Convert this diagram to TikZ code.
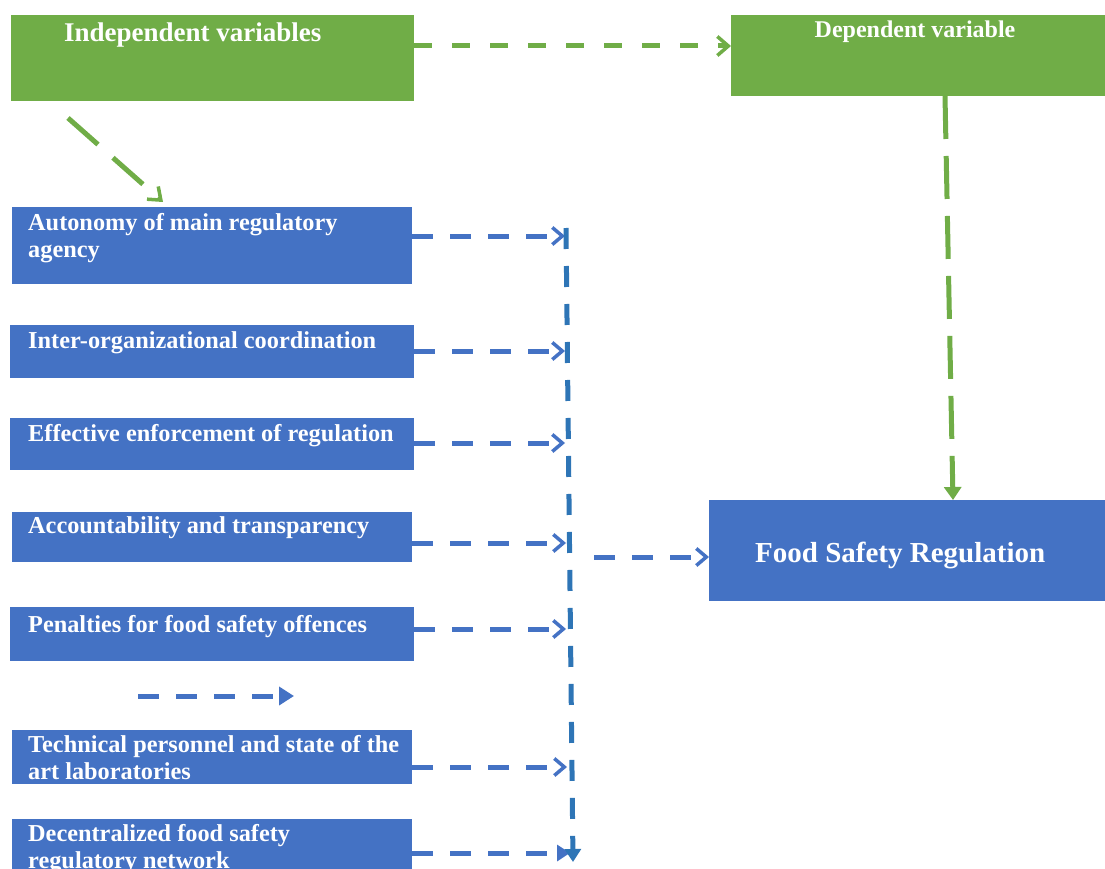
\documentclass[tikz,border=0pt]{standalone}
\usepackage{fontspec}
\setmainfont{Liberation Serif}
\usetikzlibrary{arrows.meta}
\definecolor{gr}{HTML}{70AD47}
\definecolor{bl}{HTML}{4472C4}
\definecolor{bl2}{HTML}{2E75B6}
\tikzset{
  gbox/.style={fill=gr, draw=none, anchor=north west, inner sep=0pt, outer sep=0pt},
  bbox/.style={fill=bl, draw=none, anchor=north west, inner sep=0pt, outer sep=0pt},
  txt/.style={text=white, font=\fontsize{24.3}{27}\selectfont\bfseries, align=left, inner sep=0pt, anchor=base west},
  garrow/.style={draw=gr, line width=5pt, dash pattern=on 18pt off 20pt},
  barrow/.style={draw=bl, line width=5pt, dash pattern=on 21pt off 17pt, -{Straight Barb[length=10pt,width=17pt,line width=3.5pt]}},
  vline/.style={draw=bl2, line width=5pt, dash pattern=on 21pt off 17pt},
}
\begin{document}
\begin{tikzpicture}[x=1pt,y=-1pt]
\useasboundingbox (0,0) rectangle (1105,869);
% green boxes
\node[gbox, minimum width=403, minimum height=86] (iv) at (11,15) {};
\node[gbox, minimum width=374, minimum height=81] (dv) at (731,15) {};
\node[txt, font=\fontsize{27}{30}\selectfont\bfseries] (ivt) at (64,42) {Independent variables};
\node[txt, font=\fontsize{24}{26}\selectfont\bfseries, anchor=base] (dvt) at (915,38) {Dependent variable};
% blue boxes
\node[bbox, minimum width=400, minimum height=77] (a1) at (12,207) {};
\node[bbox, minimum width=404, minimum height=53] (a2) at (10,325) {};
\node[bbox, minimum width=404, minimum height=52] (a3) at (10,418) {};
\node[bbox, minimum width=400, minimum height=50] (a4) at (12,512) {};
\node[bbox, minimum width=404, minimum height=54] (a5) at (10,607) {};
\node[bbox, minimum width=400, minimum height=54] (a6) at (12,730) {};
\node[bbox, minimum width=400, minimum height=50] (a7) at (12,819) {};
\node[bbox, minimum width=396, minimum height=101] (fs) at (709,500) {};
% texts (base anchor = baseline of the last line)
\node[txt] (a1t) at (28,257) {Autonomy of main regulatory\\agency};
\node[txt] (a2t) at (28,348) {Inter-organizational coordination};
\node[txt] (a3t) at (28,441) {Effective enforcement of regulation};
\node[txt] (a4t) at (28,533) {Accountability and transparency};
\node[txt] (a5t) at (28,632) {Penalties for food safety offences};
\node[txt] (a6t) at (28,779) {Technical personnel and state of the\\art laboratories};
\node[txt] (a7t) at (28,868) {Decentralized food safety\\regulatory network};
\node[txt, font=\fontsize{29}{32}\selectfont\bfseries] (fst) at (755,562) {Food Safety Regulation};
% green connectors
\draw[garrow, -{Straight Barb[length=11pt,width=19pt,line width=3.5pt]}] (iv.east |- 0,46) -- (dv.west |- 0,46);
\coordinate (d0) at (68,118);
\coordinate (d1) at (163,202);
\draw[garrow, dash pattern=on 40pt off 20pt, -{Straight Barb[length=11pt,width=17pt,line width=3.5pt]}] (d0) -- (d1);
\coordinate (v0) at (945,96);
\coordinate (v1) at (953,500);
\draw[garrow, dash pattern=on 43pt off 17pt, -{Triangle[length=13pt,width=17pt]}] (v0) -- (v1);
% blue connectors
\coordinate (t1) at (565,236);
\coordinate (t2) at (565,351);
\coordinate (t3) at (565,443);
\coordinate (t4) at (566,543);
\coordinate (t5) at (566,629);
\coordinate (t6) at (567,767);
\coordinate (t7) at (570,853);
\draw[barrow] (a1.east |- t1) -- (t1);
\draw[barrow] (a2.east |- t2) -- (t2);
\draw[barrow] (a3.east |- t3) -- (t3);
\draw[barrow] (a4.east |- t4) -- (t4);
\draw[barrow] (a5.east |- t5) -- (t5);
\draw[barrow] (a6.east |- t6) -- (t6);
\draw[barrow, -{Triangle[length=13pt,width=16pt]}] (a7.east |- t7) -- (t7);
\coordinate (vt) at (566,228);
\coordinate (vb) at (573,862);
\draw[vline, -{Triangle[length=13pt,width=16pt]}] (vt) -- (vb);
\coordinate (f0) at (594,557);
\draw[barrow] (f0) -- (fs.west |- f0);
\coordinate (s0) at (138,696);
\coordinate (s1) at (294,696);
\draw[barrow, -{Triangle[length=15pt,width=18pt]}] (s0) -- (s1);
\end{tikzpicture}
\end{document}
